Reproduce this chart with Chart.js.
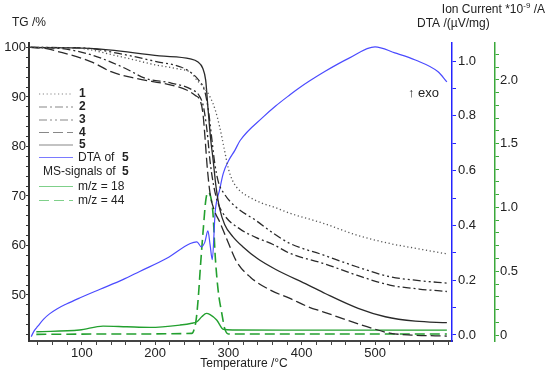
<!DOCTYPE html>
<html>
<head>
<meta charset="utf-8">
<script src="https://cdn.jsdelivr.net/npm/chart.js@4"></script>
<style>
  html, body { margin: 0; padding: 0; background: #fff; }
</style>
</head>
<body>
<canvas id="tgChart" width="550" height="375"></canvas>
<script>
// TG curves (temperature in °C, mass in %)
const t1 = [30, 90, 154, 200, 230, 250, 257, 265, 275, 282, 288, 295, 300, 306, 316, 327, 345, 363, 384, 429, 475, 520, 560, 598];
const tg1 = [100, 99.9, 98.1, 96.5, 95.7, 94.8, 93.4, 92.2, 90.0, 87.4, 84.0, 79.0, 75.5, 73.0, 71.0, 69.9, 68.6, 67.7, 66.5, 64.5, 62.1, 60.4, 59.3, 58.3];

const t2 = [30, 70, 113, 159, 186, 222, 250, 260, 266, 271, 275, 280, 286, 295, 316, 338, 361, 384, 429, 475, 520, 560, 598];
const tg2 = [100, 99.8, 98.5, 95.8, 93.8, 92.8, 91.5, 90.3, 88, 83, 77, 72, 68.5, 66, 63.3, 61.6, 60.2, 58.4, 56.4, 54.0, 52.0, 51.2, 50.7];

const t3 = [30, 100, 150, 200, 236, 250, 260, 268, 273, 277, 281, 286, 295, 310, 338, 361, 384, 429, 475, 520, 560, 598];
const tg3 = [100, 99.9, 98.8, 97.2, 96.0, 94.8, 93.3, 91.0, 87.0, 82.0, 77.0, 73.0, 70.3, 67.8, 65.0, 62.5, 60.4, 58.1, 55.7, 53.7, 52.9, 52.4];

const t4 = [30, 50, 67, 113, 140, 172, 222, 243, 255, 261, 265, 268, 271, 275, 281, 288, 300, 311, 330, 357, 384, 409, 429, 489, 520, 550, 598];
const tg4 = [100, 99.8, 99.2, 97.1, 95.1, 93.8, 92.4, 91.4, 90.3, 89.4, 87, 82, 76, 70.5, 67, 64.8, 60.5, 56.8, 53.6, 51, 49.3, 47.6, 46.6, 43.6, 42.3, 41.9, 41.7];

const t5 = [30, 111, 206, 248, 258, 265, 269, 272, 276, 279, 283, 288, 295, 306, 320, 340, 364, 409, 432, 477, 514, 555, 598];
const tg5 = [100, 99.8, 98.3, 97.7, 97.1, 95.8, 93.4, 88, 81.2, 77.5, 72, 67.5, 64.2, 61.8, 59.7, 57.3, 55.2, 52.0, 50.3, 47.3, 45.6, 44.7, 44.4];

// DTA of 5 (µV/mg)
const tDta = [31, 35, 40, 48, 56, 66, 79, 97, 125, 156, 179, 216, 248, 257, 263, 268, 272, 275, 278, 282, 288, 293, 300, 309, 316, 348, 364, 384, 395, 411, 432, 464, 500, 527, 555, 586, 598];
const dta5 = [-0.006, 0.015, 0.032, 0.058, 0.077, 0.095, 0.113, 0.135, 0.167, 0.202, 0.232, 0.28, 0.334, 0.34, 0.322, 0.34, 0.38, 0.33, 0.275, 0.45, 0.53, 0.59, 0.635, 0.675, 0.71, 0.797, 0.835, 0.877, 0.899, 0.928, 0.963, 1.01, 1.052, 1.03, 1.004, 0.961, 0.924];

// MS signals of 5 (ion current *10^-9 A)
const tMs18 = [38, 97, 129, 161, 193, 234, 250, 257, 264, 270, 275, 284, 293, 306, 400, 598];
const ms18 = [0.026, 0.039, 0.07, 0.065, 0.06, 0.078, 0.092, 0.104, 0.145, 0.17, 0.16, 0.118, 0.045, 0.039, 0.038, 0.038];

const tMs44 = [38, 150, 250, 253, 256, 259, 262, 266, 269, 272, 276, 279, 282, 286, 291, 295, 300, 350, 598];
const ms44 = [0.005, 0.008, 0.013, 0.04, 0.12, 0.3, 0.55, 0.85, 1.05, 1.12, 1.08, 0.95, 0.62, 0.35, 0.17, 0.05, 0.008, 0.008, 0.008];

// Axis labels shown
const tempLabels = [100, 200, 300, 400, 500];
const tgLabels = [50, 60, 70, 80, 90, 100];

const FONT = "'Liberation Sans', Arial, sans-serif";
Chart.defaults.font.family = FONT;
Chart.defaults.font.size = 13;
Chart.defaults.color = '#222';

const BLACK = '#2a2a2a';
const BLUE = '#4b4bff';
const GREEN = '#23a02f';

function toPoints(xs, ys) {
  return xs.map((x, i) => ({ x: x, y: ys[i] }));
}

function lineSet(label, xs, ys, axis, color, dash, width) {
  return {
    label: label,
    data: toPoints(xs, ys),
    yAxisID: axis,
    borderColor: color,
    borderWidth: width || 1.3,
    borderDash: dash || [],
    pointRadius: 0,
    fill: false,
    cubicInterpolationMode: 'monotone'
  };
}

const dash1 = [1.2, 2.6];
const dash2 = [8, 3, 2, 3];
const dash3 = [8, 3, 2, 3, 2, 3];
const dash4 = [10, 4];
const dash44 = [10, 5];

const data = {
  datasets: [
    lineSet('1', t1, tg1, 'y', '#555', dash1),
    lineSet('2', t2, tg2, 'y', BLACK, dash2),
    lineSet('3', t3, tg3, 'y', BLACK, dash3),
    lineSet('4', t4, tg4, 'y', BLACK, dash4),
    lineSet('5', t5, tg5, 'y', BLACK),
    lineSet('DTA of 5', tDta, dta5, 'dta', BLUE, [], 1.2),
    lineSet('m/z = 18', tMs18, ms18, 'ion', GREEN, [], 1.4),
    lineSet('m/z = 44', tMs44, ms44, 'ion', GREEN, dash44, 1.6)
  ]
};

// legend + axis titles drawn on top of the chart
const annotations = {
  id: 'annotations',
  afterDraw(chart) {
    const ctx = chart.ctx;
    ctx.save();
    ctx.textBaseline = 'middle';
    ctx.fillStyle = '#222';

    // axis titles
    ctx.font = '12px ' + FONT;
    ctx.fillText('TG /%', 12, 23);
    ctx.fillText('DTA /(µV/mg)', 417, 24);
    ctx.textAlign = 'center';
    ctx.fillText('Temperature /°C', 244, 364);
    ctx.textAlign = 'left';

    // Ion Current *10^-9 /A, right aligned
    const a = 'Ion Current *10', c = ' /A';
    ctx.font = '8px ' + FONT;
    const wb = ctx.measureText('-9').width;
    ctx.font = '12px ' + FONT;
    const wa = ctx.measureText(a).width, wc = ctx.measureText(c).width;
    let x0 = 545 - wa - wb - wc;
    ctx.fillText(a, x0, 10);
    ctx.font = '8px ' + FONT;
    ctx.fillText('-9', x0 + wa, 6);
    ctx.font = '12px ' + FONT;
    ctx.fillText(c, x0 + wa + wb, 10);

    ctx.font = '13px ' + FONT;
    ctx.fillText('\u2191 exo', 408, 93);

    // legend
    const rows = [
      { y: 94, ds: 0, color: '#888', text: '', bold: '1' },
      { y: 107, ds: 1, color: '#888', text: '', bold: '2' },
      { y: 120, ds: 2, color: '#888', text: '', bold: '3' },
      { y: 132.5, ds: 3, color: '#888', text: '', bold: '4' },
      { y: 145, ds: 4, color: '#888', text: '', bold: '5' },
      { y: 157.5, ds: 5, color: '#7a7aff', text: 'DTA of', bold: '5' },
      { y: 172, ds: -1, color: '', text: 'MS-signals of', bold: '5' },
      { y: 186.5, ds: 6, color: '#7fd08a', text: 'm/z = 18', bold: '' },
      { y: 200.5, ds: 7, color: '#7fd08a', text: 'm/z = 44', bold: '' }
    ];
    rows.forEach(r => {
      if (r.ds >= 0) {
        const set = chart.data.datasets[r.ds];
        ctx.strokeStyle = r.color;
        ctx.lineWidth = 1.2;
        ctx.setLineDash(set.borderDash);
        ctx.beginPath();
        ctx.moveTo(39, r.y);
        ctx.lineTo(73, r.y);
        ctx.stroke();
        ctx.setLineDash([]);
      }
      ctx.font = '12px ' + FONT;
      const tx = r.ds === -1 ? 43 : 78;
      if (r.text) ctx.fillText(r.text, tx, r.y);
      if (r.bold) {
        ctx.font = 'bold 12px ' + FONT;
        ctx.fillText(r.bold, r.text ? 122 : 79, r.y);
      }
    });
    ctx.restore();
  }
};

const options = {
  responsive: false,
  animation: false,
  devicePixelRatio: 1,
  layout: { padding: { top: 43, left: 0, right: 0, bottom: 0 } },
  plugins: {
    legend: { display: false },
    tooltip: { enabled: false }
  },
  scales: {
    x: {
      type: 'linear',
      min: 28,
      max: 605,
      border: { color: '#444', width: 2 },
      grid: { drawOnChartArea: false, color: '#444', tickLength: 4 },
      ticks: {
        stepSize: 20,
        includeBounds: false,
        autoSkip: false,
        maxRotation: 0,
        padding: 1,
        callback: v => tempLabels.includes(v) ? String(v) : ''
      },
      afterFit: s => { s.height = 34; }
    },
    y: {
      type: 'linear',
      position: 'left',
      min: 40.7,
      max: 100.9,
      border: { color: '#333', width: 2 },
      grid: { drawOnChartArea: false, color: '#333', tickLength: 3 },
      ticks: {
        stepSize: 2,
        includeBounds: false,
        autoSkip: false,
        padding: 0,
        callback: v => tgLabels.includes(Math.round(v * 10) / 10) ? String(Math.round(v)) : ''
      },
      afterFit: s => { s.width = 29; }
    },
    dta: {
      type: 'linear',
      position: 'right',
      min: -0.022,
      max: 1.066,
      border: { color: '#2424ff', width: 1.5 },
      grid: { drawOnChartArea: false, color: '#2424ff', tickLength: 4 },
      ticks: {
        stepSize: 0.1,
        includeBounds: false,
        autoSkip: false,
        padding: 2,
        callback: v => Math.round(v * 10) % 2 === 0 ? v.toFixed(1) : ''
      },
      afterFit: s => { s.width = 43; }
    },
    ion: {
      type: 'linear',
      position: 'right',
      min: -0.047,
      max: 2.29,
      border: { color: '#3aa83a', width: 1.5 },
      grid: { drawOnChartArea: false, color: '#3aa83a', tickLength: 4 },
      ticks: {
        stepSize: 0.1,
        includeBounds: false,
        autoSkip: false,
        padding: 1,
        callback: v => {
          const k = Math.round(v * 10);
          if (k % 5 !== 0) return '';
          return k === 0 ? '0' : v.toFixed(1);
        }
      },
      afterFit: s => { s.width = 55; }
    }
  }
};

const ctx = document.getElementById('tgChart').getContext('2d');
const tgChart = new Chart(ctx, {
  type: 'line',
  data: data,
  options: options,
  plugins: [annotations]
});
</script>
</body>
</html>
